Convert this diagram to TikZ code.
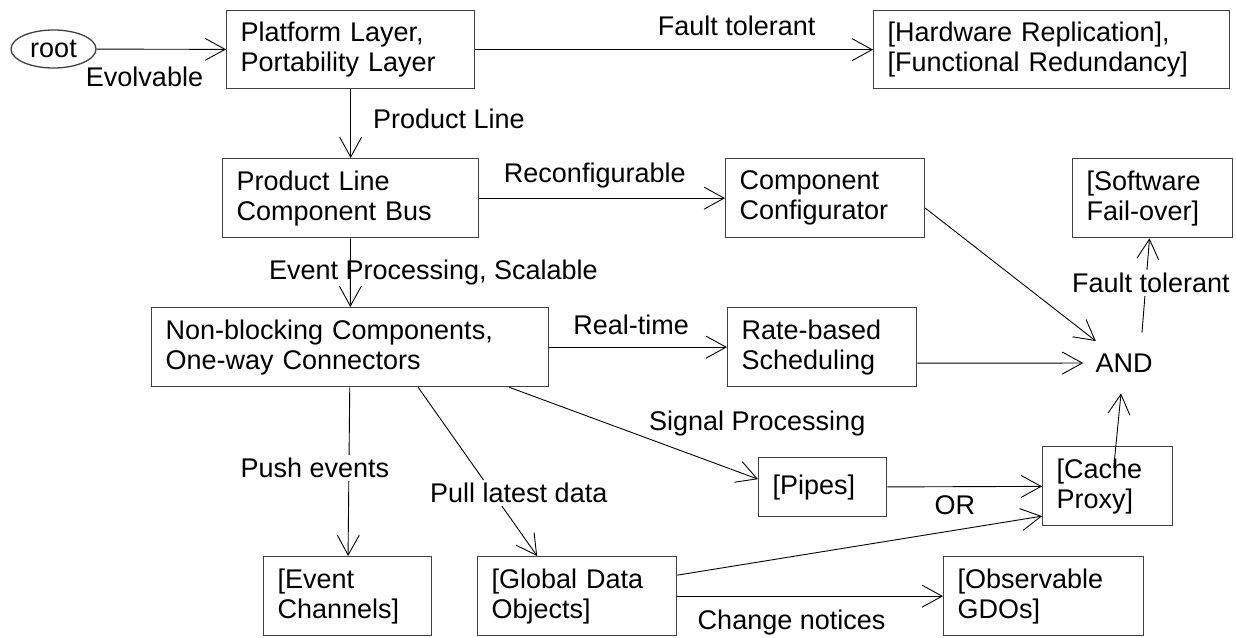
\documentclass[tikz,border=0pt]{standalone}
\usepackage{fontspec}
\setmainfont{Liberation Sans}
\usetikzlibrary{positioning}
\usetikzlibrary{shapes.geometric}
\usetikzlibrary{arrows.meta}

\tikzset{
  box/.style={draw=black!75, line width=1.3pt, rectangle, anchor=north west,
    align=left, inner xsep=14pt, inner ysep=0pt, minimum height=79pt},
  lbl/.style={inner sep=0pt},
  lblw/.style={fill=white, inner sep=3pt},
}

\begin{document}
\begin{tikzpicture}[x=1pt, y=-1pt, line width=0.9pt,
  >={Straight Barb[length=20pt,width=22pt]},
  every node/.style={font=\fontsize{27}{30}\selectfont}]
\useasboundingbox (0,0) rectangle (1236,637);

\node[draw=black!75, line width=1.3pt, ellipse, inner sep=0pt,
  minimum width=85pt, minimum height=38pt] (root) at (53.5,49) {root};
\node[box, text width=220pt, minimum height=78pt] (plat) at (226,10) {Platform Layer,\\Portability Layer};
\node[box, text width=328pt, minimum height=78pt] (hw) at (873,10) {[Hardware Replication],\\{[Functional Redundancy]}};
\node[box, text width=228pt] (plcb) at (222,158) {Product Line\\Component Bus};
\node[box, text width=171pt] (cc) at (725,158) {Component\\Configurator};
\node[box, text width=132pt] (sf) at (1072,158) {[Software\\Fail-over]};
\node[box, text width=369pt] (nb) at (151,307) {Non-blocking Components,\\One-way Connectors};
\node[box, text width=161pt] (rate) at (727,307) {Rate-based\\Scheduling};
\node[ellipse, inner sep=0pt, minimum width=76pt, minimum height=60pt] (and) at (1124,363) {AND};
\node[box, text width=100pt, minimum height=59pt] (pipes) at (758,457) {[Pipes]};
\node[box, text width=102pt] (cache) at (1042,446) {[Cache\\Proxy]};
\node[box, text width=140pt] (ev) at (263,556) {[Event\\Channels]};
\node[box, text width=171pt] (gdo) at (477,556) {[Global Data\\Objects]};
\node[box, text width=172pt] (obs) at (943,556) {[Observable\\GDOs]};

\path[->] (root) edge node[lbl, pos=0.37, yshift=-28pt] {Evolvable} (plat);
\path[->] (plat) edge node[lbl, pos=0.657, yshift=24pt] {Fault tolerant} (hw);
\path[->] (plat) edge node[lbl, pos=0.43, right=22pt] {Product Line} (plcb);
\path[->] (plcb) edge node[lbl, pos=0.47, yshift=23pt] {Reconfigurable} (cc);
\path[->] (plcb) edge node[lbl, pos=0.5, xshift=83pt] {Event Processing, Scalable} (nb);
\path[->] (nb) edge node[lbl, pos=0.46, yshift=22pt] {Real-time} (rate);
\path[->] (nb) edge node[lblw, pos=0.48, xshift=-34pt] {Push events} (ev);
\path[->] ([xshift=68pt]nb.south) edge node[lblw, pos=0.627, xshift=26pt] {Pull latest data} ([xshift=-40pt]gdo.north);
\path[->] ([xshift=-40pt]nb.south east) edge node[lbl, pos=0.8, xshift=49pt, yshift=37pt] {Signal Processing} ([yshift=8pt]pipes.west);
\path[->] (pipes) edge node[lbl, pos=0.436, yshift=-19pt] {OR} (cache);
\path[->] ([yshift=21pt]gdo.east) edge ([yshift=-30pt]cache.west);
\path[->] (gdo) edge node[lbl, pos=0.43, yshift=-26pt] {Change notices} (obs);
\path[->] ([yshift=-10pt]cc.east) edge (and);
\path[->] ([yshift=-16pt]rate.east) edge (and);
\path[->] ([xshift=6pt,yshift=18pt]cache.center) edge (and);
\path[->] ([xshift=18pt]and.north) edge node[lblw, pos=0.53, xshift=5pt] {Fault tolerant} (sf);
\end{tikzpicture}
\end{document}
